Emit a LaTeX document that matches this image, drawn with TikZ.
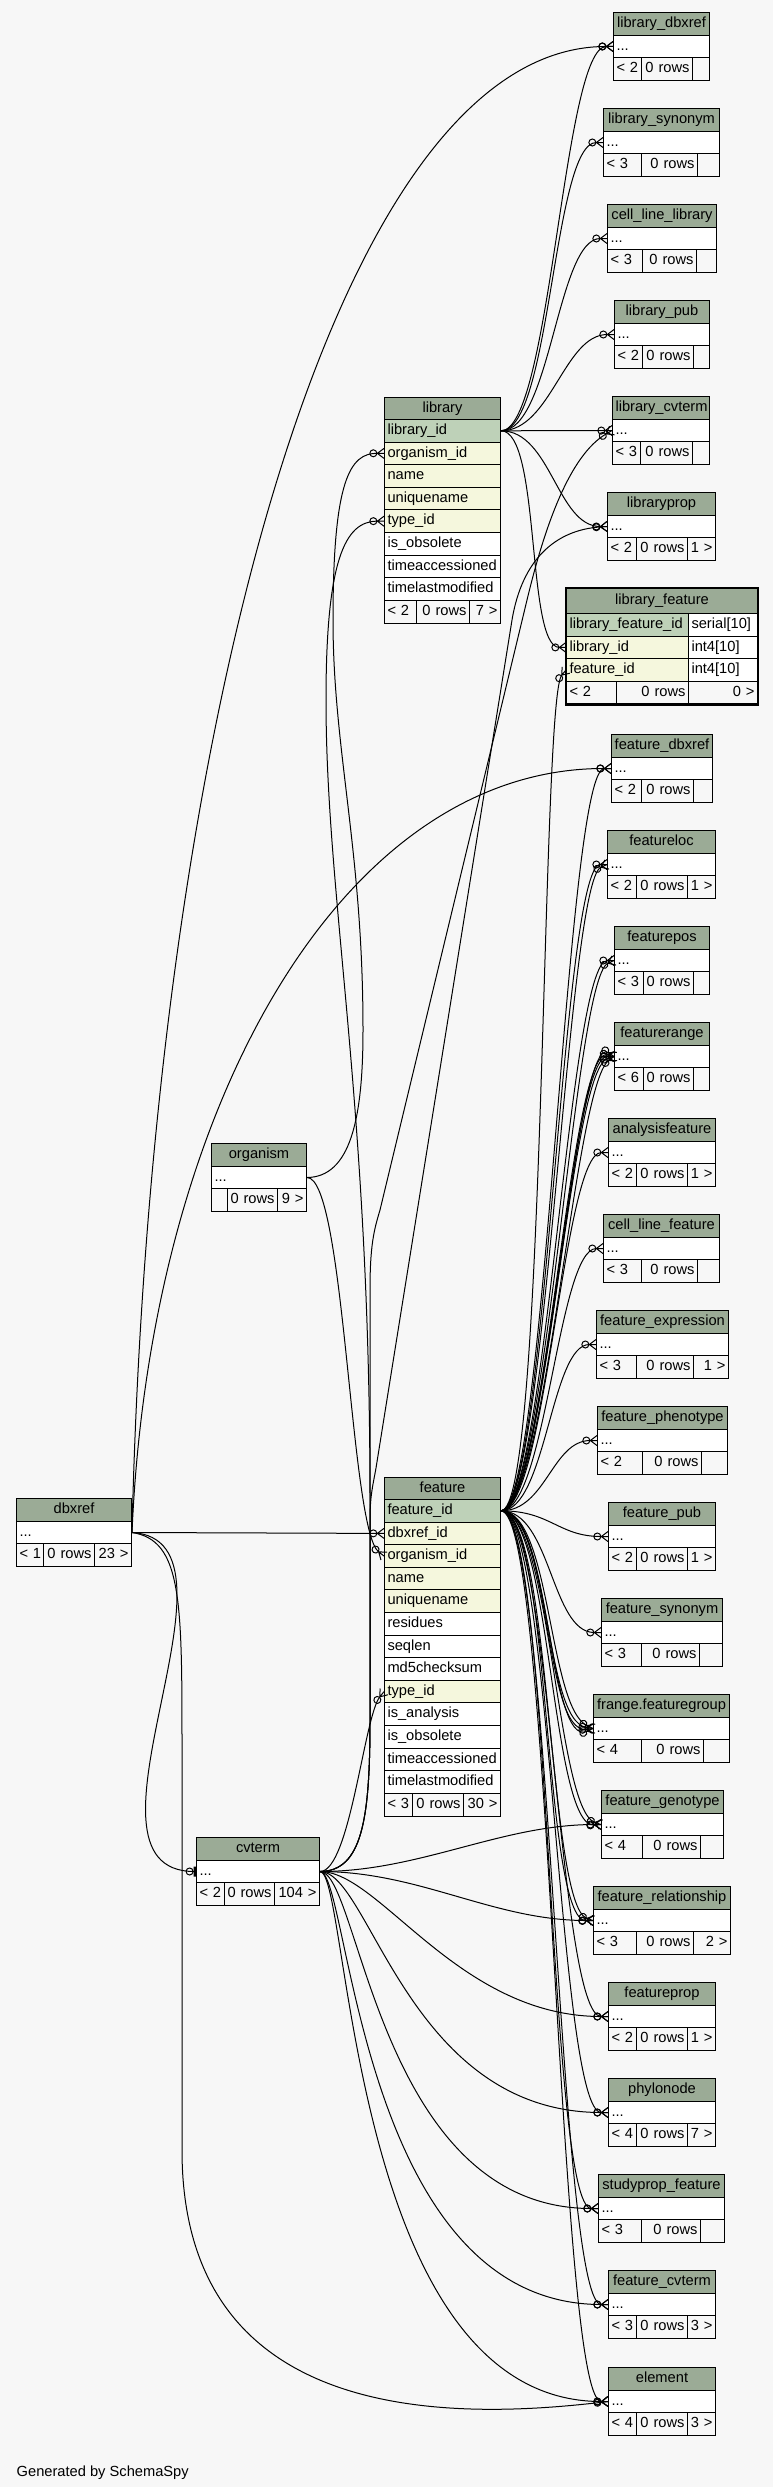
\documentclass[tikz,border=0pt]{standalone}
\usepackage{fontspec}
\setmainfont{Liberation Sans}
\usetikzlibrary{arrows.meta}

\definecolor{bgcol}{HTML}{F7F7F7}
\definecolor{headcol}{HTML}{9BAB96}
\definecolor{pkcol}{HTML}{BED1B8}
\definecolor{ixcol}{HTML}{F5F7DD}

% Kraehenfuss
\pgfdeclarearrow{
  name = Crow,
  setup code = {
    \pgfarrowssettipend{0pt}
    \pgfarrowssetbackend{-\pgfarrowlength}
    \pgfarrowssetlineend{-\pgfarrowlength}
    \pgfarrowshullpoint{0pt}{.5\pgfarrowwidth}
    \pgfarrowshullpoint{0pt}{-.5\pgfarrowwidth}
    \pgfarrowshullpoint{-\pgfarrowlength}{0pt}
    \pgfarrowssavethe\pgfarrowlength
    \pgfarrowssavethe\pgfarrowwidth
  },
  drawing code = {
    \pgfsetdash{}{0pt}
    \pgfpathmoveto{\pgfqpoint{0pt}{.5\pgfarrowwidth}}
    \pgfpathlineto{\pgfqpoint{-\pgfarrowlength}{0pt}}
    \pgfpathlineto{\pgfqpoint{0pt}{-.5\pgfarrowwidth}}
    \pgfpathmoveto{\pgfqpoint{-\pgfarrowlength}{0pt}}
    \pgfpathlineto{\pgfqpoint{0pt}{0pt}}
    \pgfusepathqstroke
  },
  parameters = {\the\pgfarrowlength,\the\pgfarrowwidth},
  defaults = {length = 5pt, width = 7pt}
}

\tikzset{
  cell/.style={draw=black, line width=0.75pt, inner xsep=2.25pt, inner ysep=0pt,
    anchor=north west, text height=8pt, text depth=2.5pt,
    font=\fontsize{11}{12}\selectfont},
  head/.style={cell, fill=headcol, align=center},
  pk/.style={cell, fill=pkcol, align=left},
  ix/.style={cell, fill=ixcol, align=left},
  pl/.style={cell, fill=white, align=left},
  ftl/.style={cell, fill=bgcol, align=left},
  ftr/.style={cell, fill=bgcol, align=right},
  fk/.style={line width=0.75pt,
    -{Circle[open,length=6pt,width=6pt,sep=0pt]Crow[length=5pt,width=7.5pt]}},
  onefk/.style={line width=0.75pt,
    -{Circle[open,length=6pt,width=6pt,sep=0pt]Bar[width=7.5pt,line width=1.8pt]}}
}

% Zelle: Name, Stil, x1, y1, x2, y2, Text
\newcommand\tabcell[7]{%
  \pgfmathsetlengthmacro\cellw{((#5)-(#3))*0.75pt-4.5pt}%
  \pgfmathsetlengthmacro\cellh{((#6)-(#4))*0.75pt}%
  \node[#2, text width=\cellw, minimum height=\cellh] (#1) at ({#3},{#4}) {#7};}

% kleine Tabelle: Name, x1, y, x2, Titel, Trenner 1, Trenner 2, Fuss links, Fuss rechts
\newcommand\smalltab[9]{%
  \tabcell{#1-t}{head}{#2}{#3}{#4}{#3+23}{#5}
  \tabcell{#1}{pl}{#2}{#3+23}{#4}{#3+45}{...}
  \tabcell{#1-a}{ftl}{#2}{#3+45}{#6}{#3+68}{#8}
  \tabcell{#1-b}{ftr}{#6}{#3+45}{#7}{#3+68}{0~rows}
  \tabcell{#1-c}{ftr}{#7}{#3+45}{#4}{#3+68}{#9}}

\begin{document}
\begin{tikzpicture}[x=0.75pt, y=-0.75pt]
  \fill[bgcol] (0,0) rectangle (773,2487);
  \useasboundingbox (0,0) rectangle (773,2487);

  % library
  \tabcell{lib-t}{head}{384}{397}{500}{419}{library}
  \foreach \txt/\sty [count=\i] in {library\_id/pk, organism\_id/ix, name/ix,
      uniquename/ix, type\_id/ix, is\_obsolete/pl, timeaccessioned/pl, timelastmodified/pl}
    {\tabcell{lib-\i}{\sty}{384}{419+(\i-1)*22.6}{500}{419+\i*22.6}{\txt}}
  \tabcell{lib-a}{ftl}{384}{599.8}{416}{622.6}{<~2}
  \tabcell{lib-b}{ftr}{416}{599.8}{469}{622.6}{0~rows}
  \tabcell{lib-c}{ftr}{469}{599.8}{500}{622.6}{7~>}

  % feature
  \tabcell{feat-t}{head}{384}{1477}{500}{1499}{feature}
  \foreach \txt/\sty [count=\i] in {feature\_id/pk, dbxref\_id/ix, organism\_id/ix,
      name/ix, uniquename/ix, residues/pl, seqlen/pl, md5checksum/pl, type\_id/ix,
      is\_analysis/pl, is\_obsolete/pl, timeaccessioned/pl, timelastmodified/pl}
    {\tabcell{feat-\i}{\sty}{384}{1499+(\i-1)*22.6}{500}{1499+\i*22.6}{\txt}}
  \tabcell{feat-a}{ftl}{384}{1792.8}{412}{1815.6}{<~3}
  \tabcell{feat-b}{ftr}{412}{1792.8}{463}{1815.6}{0~rows}
  \tabcell{feat-c}{ftr}{463}{1792.8}{500}{1815.6}{30~>}

  % library_feature
  \tabcell{lf-t}{head}{566}{588}{757}{613}{library\_feature}
  \tabcell{lf-1}{pk}{566}{613}{688}{635.6}{library\_feature\_id}
  \tabcell{lf-1b}{pl}{688}{613}{757}{635.6}{serial[10]}
  \tabcell{lf-2}{ix}{566}{635.6}{688}{658.2}{library\_id}
  \tabcell{lf-2b}{pl}{688}{635.6}{757}{658.2}{int4[10]}
  \tabcell{lf-3}{ix}{566}{658.2}{688}{680.8}{feature\_id}
  \tabcell{lf-3b}{pl}{688}{658.2}{757}{680.8}{int4[10]}
  \tabcell{lf-a}{ftl}{566}{680.8}{616}{703.4}{<~2}
  \tabcell{lf-b}{ftr}{616}{680.8}{688}{703.4}{0~rows}
  \tabcell{lf-c}{ftr}{688}{680.8}{757}{703.4}{0~>}
  \draw[line width=1.8pt] (lf-t.north west) rectangle (lf-c.south east);

  % linke Tabellen
  \smalltab{dbxref}{16}{1498}{131}{dbxref}{43}{94}{<~1}{23~>}
  \smalltab{organism}{211}{1143}{306}{organism}{227}{277}{}{9~>}
  \smalltab{cvterm}{196}{1837}{319}{cvterm}{224}{274}{<~2}{104~>}

  % rechte Tabellen
  \smalltab{libdbxref}{613}{12}{709}{library\_dbxref}{641}{692}{<~2}{}
  \smalltab{libsynonym}{603}{108}{719}{library\_synonym}{641}{697}{<~3}{}
  \smalltab{celllinelib}{607}{204}{716}{cell\_line\_library}{642}{696}{<~3}{}
  \smalltab{libpub}{614}{300}{709}{library\_pub}{642}{693}{<~2}{}
  \smalltab{libcvterm}{612}{396}{709}{library\_cvterm}{640}{692}{<~3}{}
  \smalltab{libprop}{607}{492}{715}{libraryprop}{636}{687}{<~2}{1~>}
  \smalltab{featdbxref}{611}{734}{712}{feature\_dbxref}{641}{693}{<~2}{}
  \smalltab{featloc}{607}{830}{715}{featureloc}{636}{687}{<~2}{1~>}
  \smalltab{featpos}{614}{926}{709}{featurepos}{643}{693}{<~3}{}
  \smalltab{featrange}{614}{1022}{709}{featurerange}{643}{693}{<~6}{}
  \smalltab{analysisfeat}{608}{1118}{715}{analysisfeature}{636}{687}{<~2}{1~>}
  \smalltab{celllinefeat}{603}{1214}{719}{cell\_line\_feature}{641}{697}{<~3}{}
  \smalltab{featexpr}{596}{1310}{728}{feature\_expression}{636}{693}{<~3}{1~>}
  \smalltab{featpheno}{597}{1406}{727}{feature\_phenotype}{642}{701}{<~2}{}
  \smalltab{featpub}{608}{1502}{715}{feature\_pub}{636}{687}{<~2}{1~>}
  \smalltab{featsyn}{601}{1598}{722}{feature\_synonym}{641}{699}{<~3}{}
  \smalltab{featgroup}{593}{1694}{729}{frange.featuregroup}{641}{703}{<~4}{}
  \smalltab{featgeno}{601}{1790}{723}{feature\_genotype}{642}{700}{<~4}{}
  \smalltab{featrel}{593}{1886}{730}{feature\_relationship}{636}{693}{<~3}{2~>}
  \smalltab{featprop}{608}{1982}{715}{featureprop}{636}{687}{<~2}{1~>}
  \smalltab{phylonode}{608}{2078}{715}{phylonode}{636}{687}{<~4}{7~>}
  \smalltab{studypropfeat}{598}{2174}{724}{studyprop\_feature}{641}{700}{<~3}{}
  \smalltab{featcvterm}{608}{2270}{715}{feature\_cvterm}{636}{687}{<~3}{3~>}
  \smalltab{element}{608}{2367}{715}{element}{636}{687}{<~4}{3~>}

  \node[anchor=west, font=\fontsize{11}{12}\selectfont] (gen) at (12,2473) {Generated by SchemaSpy};

  % Linien library
  \draw[fk] (lib-1.east) .. controls +(50,0) and +(-50,0) .. (libdbxref.west);
  \draw[fk] (lib-1.east) .. controls +(50,0) and +(-50,0) .. (libsynonym.west);
  \draw[fk] (lib-1.east) .. controls +(50,0) and +(-50,0) .. (celllinelib.west);
  \draw[fk] (lib-1.east) .. controls +(50,0) and +(-50,0) .. (libpub.west);
  \draw[fk] (lib-1.east) -- (libcvterm.west);
  \draw[fk] (lib-1.east) .. controls +(50,0) and +(-50,0) .. (libprop.west);
  \draw[fk] (lib-1.east) .. controls +(40,0) and +(-40,0) .. (lf-2.west);

  % Linien feature
  \draw[fk] (feat-1.east) .. controls +(45,0) and +(-25,30) .. (lf-3.west);
  \draw[fk] (feat-1.east) .. controls +(45,0) and +(-45,0) .. (featdbxref.west);
  \draw[fk] (feat-1.east) .. controls +(45,0) and +(-45,0) .. (featloc.west);
  \draw[fk] (feat-1.east) .. controls +(45,0) and +(-40,18) .. (featloc.west);
  \draw[fk] (feat-1.east) .. controls +(45,0) and +(-45,0) .. (featpos.west);
  \draw[fk] (feat-1.east) .. controls +(45,0) and +(-40,18) .. (featpos.west);
  \draw[fk] (feat-1.east) .. controls +(45,0) and +(-40,-28) .. (featrange.west);
  \draw[fk] (feat-1.east) .. controls +(45,0) and +(-45,-12) .. (featrange.west);
  \draw[fk] (feat-1.east) .. controls +(45,0) and +(-45,0) .. (featrange.west);
  \draw[fk] (feat-1.east) .. controls +(45,0) and +(-45,14) .. (featrange.west);
  \draw[fk] (feat-1.east) .. controls +(45,0) and +(-40,30) .. (featrange.west);
  \draw[fk] (feat-1.east) .. controls +(45,0) and +(-45,0) .. (analysisfeat.west);
  \draw[fk] (feat-1.east) .. controls +(45,0) and +(-45,0) .. (celllinefeat.west);
  \draw[fk] (feat-1.east) .. controls +(45,0) and +(-45,0) .. (featexpr.west);
  \draw[fk] (feat-1.east) .. controls +(45,0) and +(-45,0) .. (featpheno.west);
  \draw[fk] (feat-1.east) .. controls +(50,0) and +(-50,0) .. (featpub.west);
  \draw[fk] (feat-1.east) .. controls +(50,0) and +(-50,0) .. (featsyn.west);
  \draw[fk] (feat-1.east) .. controls +(50,0) and +(-45,-22) .. (featgroup.west);
  \draw[fk] (feat-1.east) .. controls +(50,0) and +(-50,-8) .. (featgroup.west);
  \draw[fk] (feat-1.east) .. controls +(50,0) and +(-50,6) .. (featgroup.west);
  \draw[fk] (feat-1.east) .. controls +(50,0) and +(-45,20) .. (featgroup.west);
  \draw[fk] (feat-1.east) .. controls +(50,0) and +(-45,-16) .. (featgeno.west);
  \draw[fk] (feat-1.east) .. controls +(50,0) and +(-50,4) .. (featgeno.west);
  \draw[fk] (feat-1.east) .. controls +(50,0) and +(-45,-16) .. (featrel.west);
  \draw[fk] (feat-1.east) .. controls +(50,0) and +(-50,2) .. (featrel.west);
  \draw[fk] (feat-1.east) .. controls +(50,0) and +(-50,0) .. (featprop.west);
  \draw[fk] (feat-1.east) .. controls +(50,0) and +(-50,0) .. (phylonode.west);
  \draw[fk] (feat-1.east) .. controls +(50,0) and +(-50,0) .. (studypropfeat.west);
  \draw[fk] (feat-1.east) .. controls +(50,0) and +(-50,0) .. (featcvterm.west);
  \draw[fk] (feat-1.east) .. controls +(50,0) and +(-50,0) .. (element.west);

  % Linien cvterm
  \draw[fk] (cvterm.east) .. controls (362,1871) and (370,1820) .. (370,1720)
    -- (370,1500) .. controls (370,1100) and (326,900) .. (326,700)
    .. controls (326,560) and (345,521) .. (lib-5.west);
  \draw[fk] (cvterm.east) .. controls +(30,0) and +(-20,25) .. (feat-9.west);
  \draw[fk] (cvterm.east) .. controls (362,1871) and (370,1820) .. (370,1720)
    -- (370,1290) .. controls (370,1245) and (374,1230) .. (380,1210)
    -- (527,600) .. controls (545,525) and (570,455) .. (libcvterm.west);
  \draw[fk] (cvterm.east) .. controls (362,1871) and (370,1820) .. (370,1720)
    -- (370,1520) .. controls (370,1495) and (373,1485) .. (376,1468)
    -- (512,620) .. controls (522,560) and (555,530) .. (libprop.west);
  \draw[fk] (cvterm.east) .. controls +(100,0) and +(-100,0) .. (featgeno.west);
  \draw[fk] (cvterm.east) .. controls +(100,0) and +(-100,0) .. (featrel.west);
  \draw[fk] (cvterm.east) .. controls +(60,0) and +(-150,0) .. (featprop.west);
  \draw[fk] (cvterm.east) .. controls +(50,0) and +(-200,0) .. (phylonode.west);
  \draw[fk] (cvterm.east) .. controls +(40,0) and +(-220,0) .. (studypropfeat.west);
  \draw[fk] (cvterm.east) .. controls +(30,0) and +(-250,0) .. (featcvterm.west);
  \draw[fk] (cvterm.east) .. controls +(30,0) and +(-260,0) .. (element.west);

  % Linien dbxref
  \draw[fk] (dbxref.east) .. controls (150,750) and (330,46) .. (libdbxref.west);
  \draw[fk] (dbxref.east) .. controls (150,1110) and (340,768) .. (featdbxref.west);
  \draw[fk] (dbxref.east) -- (feat-2.west);
  \draw[onefk] (dbxref.east) .. controls (260,1540) and (60,1871) .. (cvterm.west);
  \draw[fk] (dbxref.east) .. controls (182,1540) and (182,1600) .. (182,1750)
    -- (182,2150) .. controls (182,2425) and (450,2420) .. (element.west);

  % Linien organism
  \draw[fk] (organism.east) .. controls (350,1177) and (363,1120) .. (363,1030)
    .. controls (363,850) and (333,750) .. (333,620)
    .. controls (333,480) and (350,453) .. (lib-2.west);
  \draw[fk] (organism.east) .. controls (345,1177) and (350,1530) .. (feat-3.west);
\end{tikzpicture}
\end{document}
